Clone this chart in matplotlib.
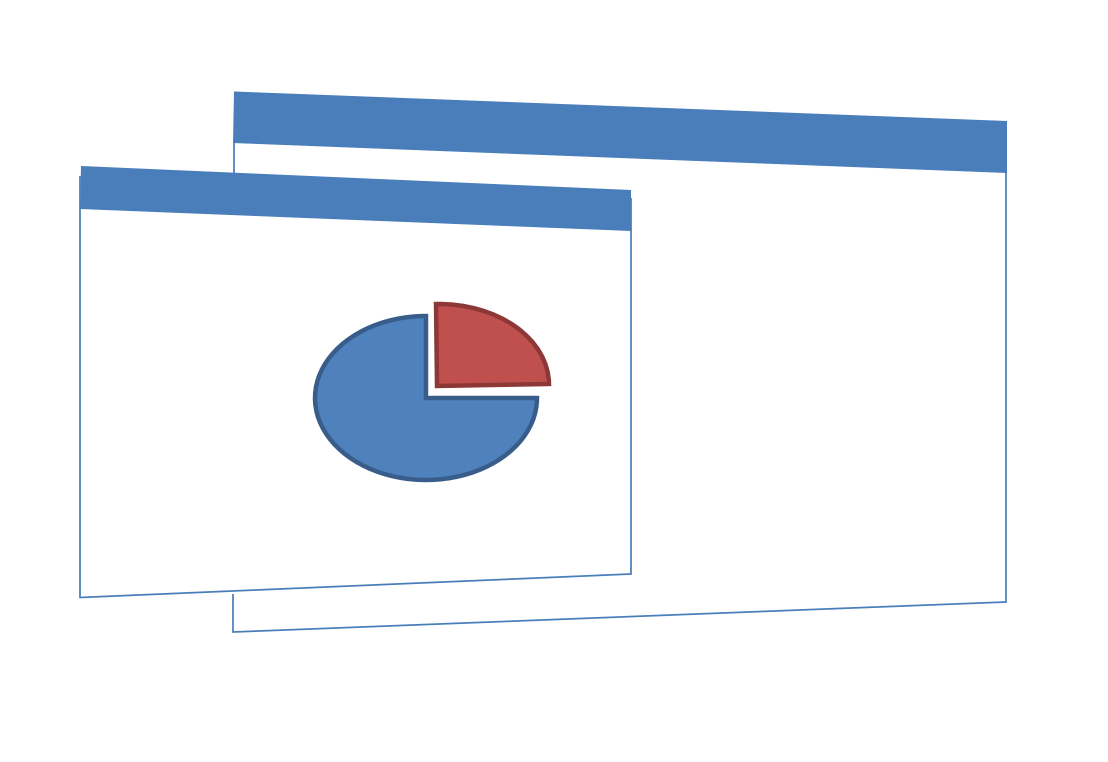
import matplotlib as mpl
mpl.use('Agg')
import matplotlib.pyplot as plt
from matplotlib.patches import Polygon
from matplotlib.transforms import Affine2D

# pie shares
pie_values = [25, 75]

# back window, picture pixels (x, y)
back_bar = [(234, 91.5), (1007, 121), (1007, 173), (233, 143)]
back_frame = [(233, 594), (233, 632), (1006, 602), (1006, 123)]
back_left = [(234, 143), (234, 173)]

# front window
front_bar = [(81, 166), (631, 190), (631, 231), (80, 209)]
front_frame = [(80, 176), (80, 597.5), (631, 574), (631, 198)]

# pie geometry: x axis vector, y axis vector, centre
blue_shape = (111, 0, 0, -82, 426, 398)
red_shape = (112, -2, -1, -82, 437, 386)

line_color = '#4a7ebb'

fig = plt.figure(figsize=(11.08, 7.62), dpi=100)
ax = fig.add_axes([0, 0, 1, 1])

for bar in (back_bar, front_bar):
    ax.add_patch(Polygon(bar, closed=True, facecolor=line_color, edgecolor='none', zorder=3))

for frame in (back_frame, back_left, front_frame):
    xs = [p[0] for p in frame]
    ys = [p[1] for p in frame]
    ax.plot(xs, ys, color=line_color, lw=1.25, solid_joinstyle='miter',
            solid_capstyle='butt', zorder=2)

# the pie is drawn at unit size then stretched into place
wedges, _ = ax.pie(pie_values, startangle=0, counterclock=True, radius=1,
                   colors=['#c0504d', '#4f81bd'],
                   wedgeprops={'linewidth': 3.2, 'joinstyle': 'miter'})
wedges[0].set_edgecolor('#8c3836')
wedges[1].set_edgecolor('#385d8a')
wedges[0].set_transform(Affine2D.from_values(*red_shape) + ax.transData)
wedges[1].set_transform(Affine2D.from_values(*blue_shape) + ax.transData)
for w in wedges:
    w.set_zorder(4)

ax.set_aspect('auto')
ax.set_xlim(0, 1108)
ax.set_ylim(762, 0)
ax.axis('off')

fig.savefig('out.png', dpi=100, facecolor='white')
plt.close(fig)
